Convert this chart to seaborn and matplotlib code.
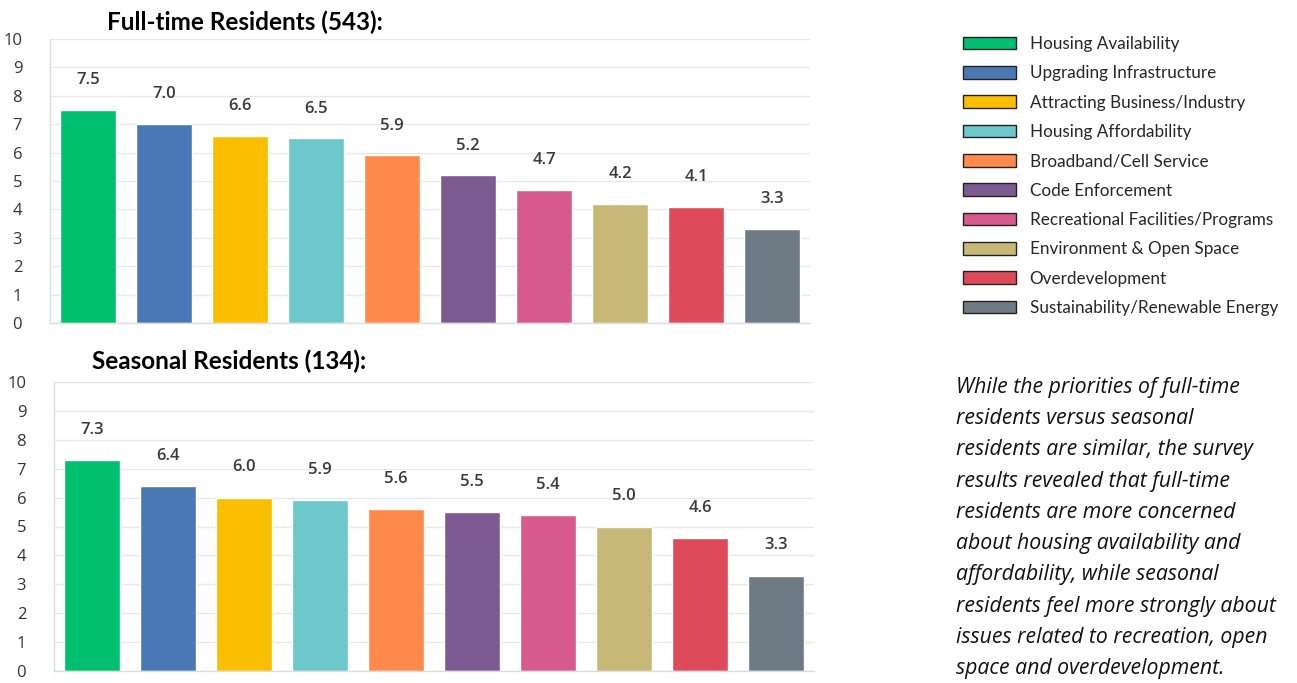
import matplotlib
matplotlib.use("Agg")
import matplotlib.pyplot as plt
from matplotlib.patches import Patch
import seaborn as sns
import pandas as pd

categories = ["Housing Availability", "Upgrading Infrastructure", "Attracting Business/Industry",
              "Housing Affordability", "Broadband/Cell Service", "Code Enforcement",
              "Recreational Facilities/Programs", "Environment & Open Space", "Overdevelopment",
              "Sustainability/Renewable Energy"]
fulltime = [7.5, 7.0, 6.6, 6.5, 5.9, 5.2, 4.7, 4.2, 4.1, 3.3]
seasonal = [7.3, 6.4, 6.0, 5.9, 5.6, 5.5, 5.4, 5.0, 4.6, 3.3]
colors = ["#00BF6F", "#4A78B5", "#F9BE00", "#6CC8CB", "#FF8A4C",
          "#7D5A92", "#D65A8E", "#C8B878", "#DD4A5A", "#6E7B84"]
titles = ["Full-time Residents (543):", "Seasonal Residents (134):"]
yticks = list(range(0, 11))
note = ("While the priorities of full-time\nresidents versus seasonal\nresidents are similar, the survey\n"
        "results revealed that full-time\nresidents are more concerned\nabout housing availability and\n"
        "affordability, while seasonal\nresidents feel more strongly about\nissues related to recreation, open\n"
        "space and overdevelopment.")

sns.set_theme(style="white")
plt.rcParams['font.family'] = ['Open Sans', 'DejaVu Sans']

fig = plt.figure(figsize=(12.97, 6.83), dpi=100)
W, H = 1297, 683

def make_axes(left, right, top, bottom):
    return fig.add_axes([left / W, 1 - bottom / H, (right - left) / W, (bottom - top) / H])

ax1 = make_axes(50, 810, 39, 323)
ax2 = make_axes(54, 814, 382, 671)

for ax, vals, title, tx, ty in [(ax1, fulltime, titles[0], 245, 22), (ax2, seasonal, titles[1], 229, 361)]:
    df = pd.DataFrame({"cat": categories, "val": vals})
    sns.barplot(data=df, x="cat", y="val", hue="cat", palette=colors, order=categories,
                hue_order=categories, width=0.73, legend=False, ax=ax, saturation=1)
    ax.set_xlim(-0.5, 9.5)
    ax.set_ylim(0, 10)
    ax.set_yticks(yticks)
    ax.set_yticklabels([str(t) for t in yticks], fontsize=12, color="#333333")
    ax.tick_params(axis="y", length=0, pad=20)
    ax.set_xticks([])
    ax.set_xlabel("")
    ax.set_ylabel("")
    ax.grid(axis="y", color="#e8e8e8", linewidth=1)
    ax.set_axisbelow(True)
    for s in ["top", "right"]:
        ax.spines[s].set_visible(False)
    for s in ["left", "bottom"]:
        ax.spines[s].set_color("#dddddd")
        ax.spines[s].set_linewidth(1)
    for i, v in enumerate(vals):
        ax.text(i, v + 1.05, f"{v:.1f}", ha="center", va="center", fontsize=12,
                fontweight="semibold", color="#3a3a3a")
    fig.text(tx / W, 1 - ty / H, title, ha="center", va="center", fontsize=17.5,
             fontweight="bold", family=["Lato", "DejaVu Sans"], color="black")

handles = [Patch(facecolor=c, edgecolor="#222222", linewidth=1) for c in colors]
fig.legend(handles, categories, loc="upper left", bbox_to_anchor=(963 / W, 1 - 36 / H),
           frameon=False, handlelength=3.1, handleheight=0.75,
           labelspacing=0.78, handletextpad=0.8, borderpad=0, borderaxespad=0,
           prop={"family": ["Lato", "DejaVu Sans"], "size": 12.3})

fig.text(956 / W, 1 - 377 / H, note, ha="left", va="top", fontsize=15.3, style="italic",
         linespacing=1.64, color="#111111", family=["Open Sans", "DejaVu Sans"])

fig.savefig("out.png", dpi=100, facecolor="white")
